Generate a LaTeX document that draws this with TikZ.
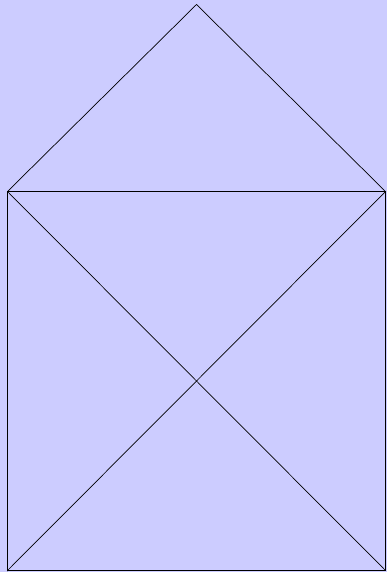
\documentclass[tikz,border=0pt]{standalone}
\definecolor{bg}{RGB}{204,204,255}
\begin{document}
\begin{tikzpicture}[x=1pt,y=-1pt,edge/.style={draw=black,line width=0.7pt,line join=miter}]
\fill[bg] (0,0) rectangle (387,572);
\useasboundingbox (0,0) rectangle (387,572);
\coordinate (A) at (7.5,570.5);
\coordinate (B) at (385.5,570.5);
\coordinate (C) at (385.5,191.5);
\coordinate (D) at (7.5,191.5);
\coordinate (E) at (196.5,4.5);
\path[edge] (A) -- (B) -- (C) -- (D) -- (A) -- (C) -- (E) -- (D) -- (B);
\end{tikzpicture}
\end{document}
